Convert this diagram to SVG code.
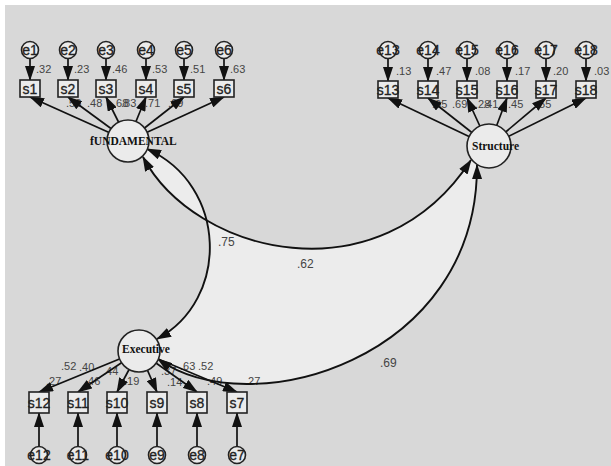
<svg xmlns="http://www.w3.org/2000/svg" width="611" height="466" viewBox="0 0 611 466">
<defs>
<marker id="ah" markerUnits="userSpaceOnUse" markerWidth="15" markerHeight="10" refX="14" refY="5" orient="auto-start-reverse" viewBox="0 0 15 10">
<path d="M0,0 L15,5 L0,10 z" fill="#111"/>
</marker>
<style>
.cn{stroke:#111;stroke-width:1.7;fill:none;marker-end:url(#ah)}
.arc{stroke:#111;stroke-width:1.9;fill:none;marker-start:url(#ah);marker-end:url(#ah)}
.lat{fill:#ebebeb;stroke:#222;stroke-width:1.6}
.obs{fill:#ebebeb;stroke:#222;stroke-width:1.6}
.err{fill:#ebebeb;stroke:#222;stroke-width:1.6}
.t{font-family:"Liberation Sans",Arial,sans-serif;font-size:14px;fill:#222;stroke:#222;stroke-width:0.3;text-anchor:middle}
.lt{font-family:"Liberation Serif","Times New Roman",serif;font-size:11.5px;font-weight:bold;fill:#111}
.v{font-family:"Liberation Sans",Arial,sans-serif;font-size:11px;fill:#444}
.vl{font-family:"Liberation Sans",Arial,sans-serif;font-size:12px;fill:#444}
</style>
</defs>
<rect x="0" y="0" width="611" height="466" fill="#ffffff"/>
<rect x="5" y="5" width="606" height="461" fill="#d8d8d8"/>
<path d="M 143 157 C 195 255, 380 300, 471 160 L 477 165 C 478 360, 250 425, 158 359 L 157 339 C 230 300, 228 185, 147 149 Z" fill="#ececec"/>

<g id="labels">
<text class="v" x="36" y="73">.32</text>
<text class="v" x="74" y="73">.23</text>
<text class="v" x="112" y="73">.46</text>
<text class="v" x="152" y="73">.53</text>
<text class="v" x="190" y="73">.51</text>
<text class="v" x="230" y="73">.63</text>
<text class="v" x="66" y="107">.56</text>
<text class="v" x="87" y="107">.48</text>
<text class="v" x="113" y="107">.68</text>
<text class="v" x="121" y="107">.83</text>
<text class="v" x="145" y="107">.71</text>
<text class="v" x="168" y="107">.69</text>
<text class="v" x="396" y="75">.13</text>
<text class="v" x="436" y="75">.47</text>
<text class="v" x="475" y="75">.08</text>
<text class="v" x="515" y="75">.17</text>
<text class="v" x="553" y="75">.20</text>
<text class="v" x="594" y="75">.03</text>
<text class="v" x="432" y="108">.65</text>
<text class="v" x="452" y="108">.69</text>
<text class="v" x="475" y="108">.28</text>
<text class="v" x="483" y="108">.41</text>
<text class="v" x="508" y="108">.45</text>
<text class="v" x="536" y="108">.55</text>
<text class="v" x="61" y="370">.52</text>
<text class="v" x="79" y="371">.40</text>
<text class="v" x="103" y="375">.44</text>
<text class="v" x="161" y="375">.37</text>
<text class="v" x="180" y="370">.63</text>
<text class="v" x="198" y="370">.52</text>
<text class="v" x="46" y="385">.27</text>
<text class="v" x="85" y="385">.46</text>
<text class="v" x="124" y="385">.19</text>
<text class="v" x="167" y="386">.14</text>
<text class="v" x="207" y="385">.49</text>
<text class="v" x="245" y="385">.27</text>
<text class="vl" x="218" y="246">.75</text>
<text class="vl" x="297" y="268">.62</text>
<text class="vl" x="380" y="367">.69</text>
</g>

<g id="connectors">
<line class="cn" x1="30" y1="50" x2="30" y2="80"/>
<line class="cn" x1="68" y1="50" x2="68" y2="80"/>
<line class="cn" x1="106" y1="50" x2="106" y2="80"/>
<line class="cn" x1="146" y1="50" x2="146" y2="80"/>
<line class="cn" x1="184" y1="50" x2="184" y2="80"/>
<line class="cn" x1="224" y1="50" x2="224" y2="80"/>
<line class="cn" x1="128" y1="141" x2="30" y2="97"/>
<line class="cn" x1="128" y1="141" x2="68" y2="97"/>
<line class="cn" x1="128" y1="141" x2="106" y2="97"/>
<line class="cn" x1="128" y1="141" x2="146" y2="97"/>
<line class="cn" x1="128" y1="141" x2="184" y2="97"/>
<line class="cn" x1="128" y1="141" x2="224" y2="97"/>
<line class="cn" x1="388" y1="50" x2="388" y2="81"/>
<line class="cn" x1="428" y1="50" x2="428" y2="81"/>
<line class="cn" x1="467" y1="50" x2="467" y2="81"/>
<line class="cn" x1="507" y1="50" x2="507" y2="81"/>
<line class="cn" x1="546" y1="50" x2="546" y2="81"/>
<line class="cn" x1="586" y1="50" x2="586" y2="81"/>
<line class="cn" x1="489" y1="146" x2="388" y2="98"/>
<line class="cn" x1="489" y1="146" x2="428" y2="98"/>
<line class="cn" x1="489" y1="146" x2="467" y2="98"/>
<line class="cn" x1="489" y1="146" x2="507" y2="98"/>
<line class="cn" x1="489" y1="146" x2="546" y2="98"/>
<line class="cn" x1="489" y1="146" x2="586" y2="98"/>
<line class="cn" x1="139" y1="351" x2="39" y2="392"/>
<line class="cn" x1="139" y1="351" x2="78" y2="392"/>
<line class="cn" x1="139" y1="351" x2="117" y2="392"/>
<line class="cn" x1="139" y1="351" x2="157" y2="392"/>
<line class="cn" x1="139" y1="351" x2="197" y2="392"/>
<line class="cn" x1="139" y1="351" x2="237" y2="392"/>
<line class="cn" x1="39" y1="455" x2="39" y2="413"/>
<line class="cn" x1="78" y1="455" x2="78" y2="413"/>
<line class="cn" x1="117" y1="455" x2="117" y2="413"/>
<line class="cn" x1="157" y1="455" x2="157" y2="413"/>
<line class="cn" x1="197" y1="455" x2="197" y2="413"/>
<line class="cn" x1="237" y1="455" x2="237" y2="413"/>
<path class="arc" d="M 147 149 C 228 185, 230 300, 157 339"/>
<path class="arc" d="M 143 157 C 195 255, 380 300, 471 160"/>
<path class="arc" d="M 158 359 C 250 425, 478 360, 477 165"/>
</g>

<g id="FUNDAMENTAL"><circle class="lat" cx="128" cy="141" r="21"/><text class="lt" x="90" y="145">fUNDAMENTAL</text></g>
<g id="Structure"><circle class="lat" cx="489" cy="146" r="22"/><text class="lt" x="472" y="150">Structure</text></g>
<g id="Executive"><circle class="lat" cx="139" cy="351" r="21"/><text class="lt" x="122" y="353">Executive</text></g>

<g id="s1"><rect class="obs" x="20" y="80" width="20" height="17"/><text class="t" x="30" y="94">s1</text></g>
<g id="s2"><rect class="obs" x="58" y="80" width="20" height="17"/><text class="t" x="68" y="94">s2</text></g>
<g id="s3"><rect class="obs" x="96" y="80" width="20" height="17"/><text class="t" x="106" y="94">s3</text></g>
<g id="s4"><rect class="obs" x="136" y="80" width="20" height="17"/><text class="t" x="146" y="94">s4</text></g>
<g id="s5"><rect class="obs" x="174" y="80" width="20" height="17"/><text class="t" x="184" y="94">s5</text></g>
<g id="s6"><rect class="obs" x="214" y="80" width="20" height="17"/><text class="t" x="224" y="94">s6</text></g>
<g id="e1"><circle class="err" cx="30" cy="50" r="8.5"/><text class="t" x="30" y="55">e1</text></g>
<g id="e2"><circle class="err" cx="68" cy="50" r="8.5"/><text class="t" x="68" y="55">e2</text></g>
<g id="e3"><circle class="err" cx="106" cy="50" r="8.5"/><text class="t" x="106" y="55">e3</text></g>
<g id="e4"><circle class="err" cx="146" cy="50" r="8.5"/><text class="t" x="146" y="55">e4</text></g>
<g id="e5"><circle class="err" cx="184" cy="50" r="8.5"/><text class="t" x="184" y="55">e5</text></g>
<g id="e6"><circle class="err" cx="224" cy="50" r="8.5"/><text class="t" x="224" y="55">e6</text></g>

<g id="s13"><rect class="obs" x="378" y="81" width="20" height="17"/><text class="t" x="388" y="95">s13</text></g>
<g id="s14"><rect class="obs" x="418" y="81" width="20" height="17"/><text class="t" x="428" y="95">s14</text></g>
<g id="s15"><rect class="obs" x="457" y="81" width="20" height="17"/><text class="t" x="467" y="95">s15</text></g>
<g id="s16"><rect class="obs" x="497" y="81" width="20" height="17"/><text class="t" x="507" y="95">s16</text></g>
<g id="s17"><rect class="obs" x="536" y="81" width="20" height="17"/><text class="t" x="546" y="95">s17</text></g>
<g id="s18"><rect class="obs" x="576" y="81" width="20" height="17"/><text class="t" x="586" y="95">s18</text></g>
<g id="e13"><circle class="err" cx="388" cy="50" r="8.5"/><text class="t" x="388" y="55">e13</text></g>
<g id="e14"><circle class="err" cx="428" cy="50" r="8.5"/><text class="t" x="428" y="55">e14</text></g>
<g id="e15"><circle class="err" cx="467" cy="50" r="8.5"/><text class="t" x="467" y="55">e15</text></g>
<g id="e16"><circle class="err" cx="507" cy="50" r="8.5"/><text class="t" x="507" y="55">e16</text></g>
<g id="e17"><circle class="err" cx="546" cy="50" r="8.5"/><text class="t" x="546" y="55">e17</text></g>
<g id="e18"><circle class="err" cx="586" cy="50" r="8.5"/><text class="t" x="586" y="55">e18</text></g>

<g id="s12"><rect class="obs" x="29" y="392" width="20" height="21"/><text class="t" x="39" y="408">s12</text></g>
<g id="s11"><rect class="obs" x="68" y="392" width="20" height="21"/><text class="t" x="78" y="408">s11</text></g>
<g id="s10"><rect class="obs" x="107" y="392" width="20" height="21"/><text class="t" x="117" y="408">s10</text></g>
<g id="s9"><rect class="obs" x="147" y="392" width="20" height="21"/><text class="t" x="157" y="408">s9</text></g>
<g id="s8"><rect class="obs" x="187" y="392" width="20" height="21"/><text class="t" x="197" y="408">s8</text></g>
<g id="s7"><rect class="obs" x="227" y="392" width="20" height="21"/><text class="t" x="237" y="408">s7</text></g>
<g id="e12"><circle class="err" cx="39" cy="455" r="8.5"/><text class="t" x="39" y="460">e12</text></g>
<g id="e11"><circle class="err" cx="78" cy="455" r="8.5"/><text class="t" x="78" y="460">e11</text></g>
<g id="e10"><circle class="err" cx="117" cy="455" r="8.5"/><text class="t" x="117" y="460">e10</text></g>
<g id="e9"><circle class="err" cx="157" cy="455" r="8.5"/><text class="t" x="157" y="460">e9</text></g>
<g id="e8"><circle class="err" cx="197" cy="455" r="8.5"/><text class="t" x="197" y="460">e8</text></g>
<g id="e7"><circle class="err" cx="237" cy="455" r="8.5"/><text class="t" x="237" y="460">e7</text></g>
</svg>
